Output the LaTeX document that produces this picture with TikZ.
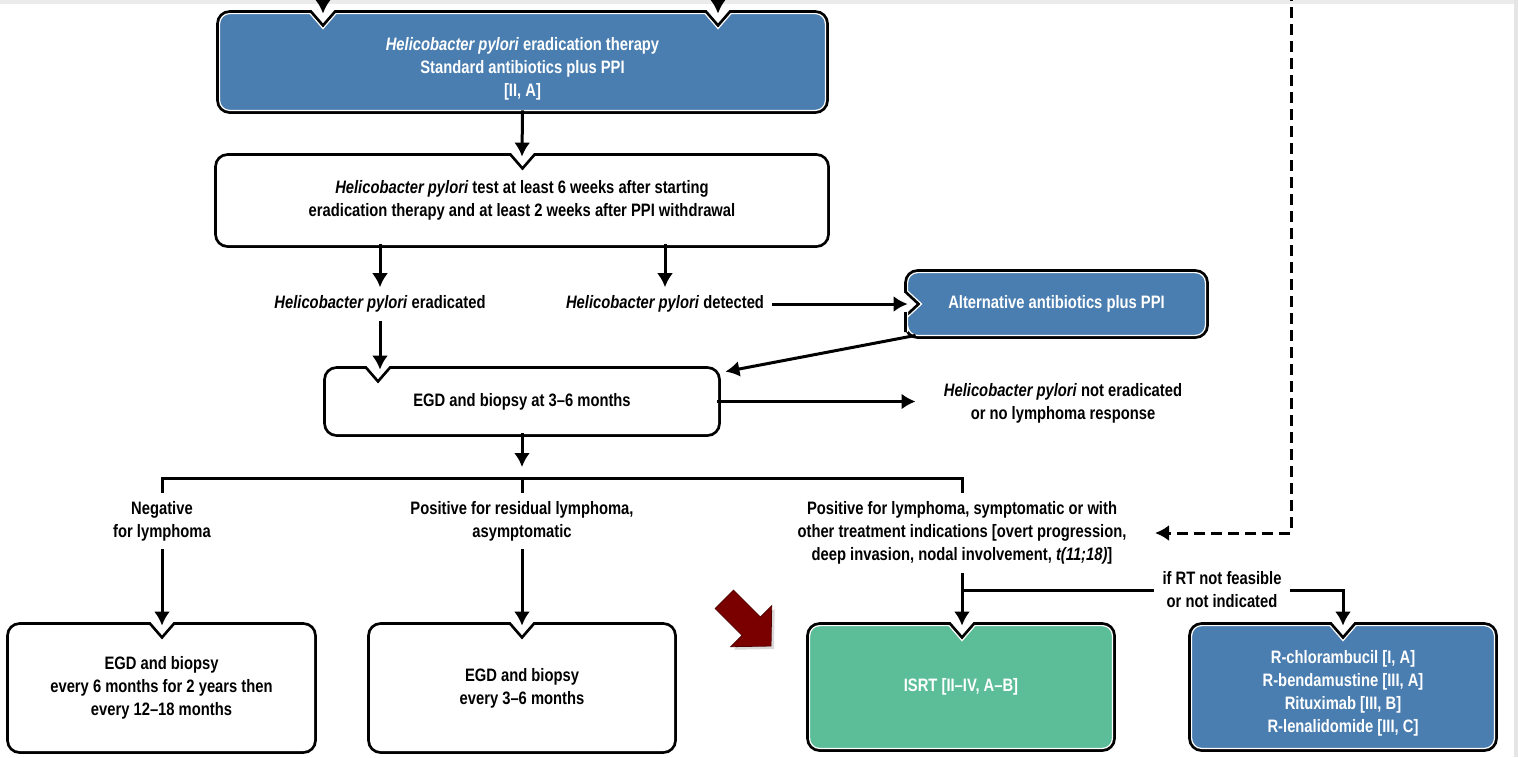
\documentclass[tikz,border=0pt]{standalone}
\usepackage{fontspec}
\setmainfont{Liberation Sans}[FakeStretch=0.82]
\usetikzlibrary{arrows.meta,calc,backgrounds,shadows}

\definecolor{hpblue}{RGB}{74,126,176}
\definecolor{isrtgreen}{RGB}{92,190,152}
\definecolor{pointred}{RGB}{122,0,0}

\newcommand\fs{\fontsize{9}{11.5}\selectfont\bfseries}
\newcommand\hp{\textit{Helicobacter pylori}}

\tikzset{
  boxline/.style={draw=white, line width=0.6pt, preaction={draw=black, line width=3.4pt}},
  boxsize/.style 2 args={minimum width=#1*0.5pt, minimum height=#2*0.5pt, inner sep=0pt},
  boxtext/.style={align=center, font=\fs},
  whitetext/.style={boxtext, text=white},
  lbl/.style={align=center, font=\fs, inner sep=4pt},
  arr/.style={line width=1.5pt, -{Latex[length=7pt,width=8pt]}},
  link/.style={line width=1.5pt},
  dashedarr/.style={arr, dash pattern=on 5.5pt off 3pt},
}

% box outline with a notch in the top edge, drawn behind the text
\newcommand\topbox[3]{%
  \path (#1.north -| #2) ++(-24,0) coordinate (na) ++(11,0) coordinate (nb)
        ++(13,15) coordinate (nc) ++(13,-15) coordinate (nd) ++(11,0) coordinate (ne);
  \begin{pgfonlayer}{background}
  \draw[boxline, fill=#3] (#1.west) [rounded corners=5pt] -- (#1.north west) -- (na)
    [sharp corners] -- (nb) -- (nc) -- (nd) -- (ne) [rounded corners=5pt]
    -- (#1.north east) -- (#1.south east) -- (#1.south west) -- cycle;
  \end{pgfonlayer}}

\begin{document}
\begin{tikzpicture}[x=0.5pt, y=-0.5pt]
  \useasboundingbox (0,0) rectangle (1518,757);
  \fill[black!8] (0,0) rectangle (1518,4);
  \fill[black!10] (1514,0) rectangle (1518,757);

  \coordinate (in1) at (323,-20);
  \coordinate (in2) at (718,-20);
  \coordinate (dtop) at (1291,-10);
  \coordinate (dend) at (1155,533);
  \coordinate (split) at (522,478);
  \coordinate (egdnotch) at (378,0);

  % boxes
  \node[boxsize={605}{96}] (erad) at (522.5,62) {};
  \node[whitetext] (eradtxt) at (522.5,68.5)
    {\hp\ eradication therapy\\Standard antibiotics plus PPI\\{[II, A]}};
  \node[boxsize={608}{87}, boxtext] (test) at (522,200.5)
    {\hp\ test at least 6 weeks after starting\\eradication therapy and at least 2 weeks after PPI withdrawal};
  \node[lbl] (erd) at (380,304) {\hp\ eradicated};
  \node[lbl] (det) at (665,304) {\hp\ detected};
  \node[boxsize={297}{62}, whitetext] (alt) at (1056.5,304) {Alternative antibiotics plus PPI};
  \node[boxsize={390}{63}, boxtext] (egd) at (522,401.5) {EGD and biopsy at 3--6 months};
  \node[lbl] (noerad) at (1063,403) {\hp\ not eradicated\\or no lymphoma response};
  \node[lbl] (neg) at (162,521) {Negative\\for lymphoma};
  \node[lbl] (posres) at (522,521) {Positive for residual lymphoma,\\asymptomatic};
  \node[lbl] (possym) at (962,533) {Positive for lymphoma, symptomatic or with\\other treatment indications [overt progression,\\deep invasion, nodal involvement, \textit{t(11;18)}]};
  \node[lbl] (rtno) at (1222,590) {if RT not feasible\\or not indicated};
  \node[boxsize={303}{124}, boxtext] (fol1) at (161.5,688)
    {EGD and biopsy\\every 6 months for 2 years then\\every 12--18 months};
  \node[boxsize={302}{124}, boxtext] (fol2) at (522,688) {EGD and biopsy\\every 3--6 months};
  \node[boxsize={302}{122}, whitetext] (isrt) at (961,687) {ISRT [II--IV, A--B]};
  \node[boxsize={302}{122}] (chemo) at (1343,687) {};
  \node[whitetext] (chemotxt) at (1343,693)
    {R-chlorambucil [I, A]\\R-bendamustine [III, A]\\Rituximab [III, B]\\R-lenalidomide [III, C]};

  % outlines
  \path (erad.north -| in1) ++(-24,0) coordinate (a1) ++(11,0) coordinate (a2)
        ++(13,15) coordinate (a3) ++(13,-15) coordinate (a4) ++(11,0) coordinate (a5);
  \path (erad.north -| in2) ++(-24,0) coordinate (b1) ++(11,0) coordinate (b2)
        ++(13,15) coordinate (b3) ++(13,-15) coordinate (b4) ++(11,0) coordinate (b5);
  \path (alt.west) ++(0,-18) coordinate (l1) ++(0,5) coordinate (l2)
        ++(14,13) coordinate (l3) ++(-14,13) coordinate (l4) ++(0,5) coordinate (l5);
  \begin{pgfonlayer}{background}
    \draw[boxline, fill=hpblue] (erad.west) [rounded corners=5pt] -- (erad.north west) -- (a1)
      [sharp corners] -- (a2) -- (a3) -- (a4) -- (a5) [rounded corners=5pt] -- (b1)
      [sharp corners] -- (b2) -- (b3) -- (b4) -- (b5) [rounded corners=5pt]
      -- (erad.north east) -- (erad.south east) -- (erad.south west) -- cycle;
    \draw[boxline, fill=hpblue] (alt.north) [rounded corners=5pt] -- (alt.north east)
      -- (alt.south east) -- (alt.south west) -- (l5) [sharp corners] -- (l4) -- (l3)
      -- (l2) -- (l1) [rounded corners=5pt] -- (alt.north west) -- cycle;
  \end{pgfonlayer}
  \topbox{test}{erad}{white}
  \topbox{egd}{egdnotch}{white}
  \topbox{fol1}{neg}{white}
  \topbox{fol2}{posres}{white}
  \topbox{isrt}{possym}{isrtgreen}
  \topbox{chemo}{chemo}{hpblue}

  % connectors
  \draw[arr] (in1) -- (in1 |- erad.north);
  \draw[arr] (in2) -- (in2 |- erad.north);
  \draw[arr] (erad.south) -- (test.north);
  \draw[arr] (test.south -| erd.north) -- (erd.north);
  \draw[arr] (test.south -| det.north) -- (det.north);
  \draw[arr] (det.east) -- (alt.west);
  \draw[arr] ($(alt.south west)+(8,0)$) -- ($(egd.north east)+(8,2)$);
  \draw[arr] (erd.south) -- (erd.south |- egd.north);
  \draw[arr, shorten >=10pt] (egd.east) -- (egd.east -| noerad.west);
  \draw[arr, shorten >=5.5pt] (egd.south) -- (split);
  \draw[link] (neg.north) |- (split) -| (possym.north);
  \draw[link] (split) -- (posres.north);
  \draw[arr] (neg.south) -- (neg.south |- fol1.north);
  \draw[arr] (posres.south) -- (posres.south |- fol2.north);
  \draw[arr] (possym.south) -- (possym.south |- isrt.north);
  \draw[link] (possym.south |- rtno.west) -- (rtno.west);
  \draw[arr] (rtno.east) -| (chemo.north);
  \draw[dashedarr] (dtop) |- (dend);

  % pointer
  \begin{scope}[shift={(771,646)}, rotate=-45]
    \fill[pointred, draw=pointred!70!black, line width=0.4pt,
      drop shadow={shadow xshift=1.5pt, shadow yshift=-1.5pt, opacity=0.3}]
      (0,0) -- (-28,29) -- (-28,13) -- (-66,13) -- (-66,-13) -- (-28,-13) -- (-28,-29) -- cycle;
  \end{scope}
\end{tikzpicture}
\end{document}
